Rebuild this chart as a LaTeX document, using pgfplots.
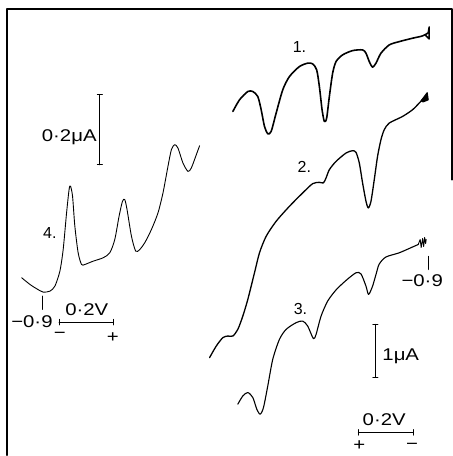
\documentclass[border=0pt]{standalone}
\usepackage{pgfplots}
\pgfplotsset{compat=1.18}
\usepackage{fontspec}
\setmainfont{Liberation Sans}

\newcommand{\lab}[1]{\scalebox{1.2}[1]{#1}}

\begin{document}
\begin{tikzpicture}
\begin{axis}[
  scale only axis, width=453pt, height=456pt,
  xmin=0, xmax=453, ymin=0, ymax=456, y dir=reverse,
  hide axis, clip=false,
  every axis plot/.append style={black, line join=round, line cap=round},
]
\path (rel axis cs:0,0) rectangle (rel axis cs:1,1);

% frame
\addplot[line width=1.8pt] coordinates {(7.3,456) (7.3,9) (452.5,9) (452.5,180)};

% curve 1
\addplot[line width=1.6pt, smooth, tension=0.45] coordinates {
(233.3,111.7) (240,100) (248.3,91.7) (253.3,91.7) (258.3,96.7) (261.7,110)
(265,126.7) (268.3,134) (271.7,131.7) (276.7,113.3) (283.3,90) (290,76.7)
(300,66.7) (308.3,63.3) (313.3,64) (317.3,70) (320,86.7) (322.7,110)
(325,121.7) (327.3,118.3) (330,96.7) (333.3,73.3) (336.7,61.7) (343.3,55)
(353.3,50.7) (363.3,50) (366.7,53.3) (370,61.7) (373.3,67.3) (376.7,63.3)
(381.7,53.3) (390,45) (400,41.7) (413.3,38.3) (423.3,36) (429,33)};
\addplot[line width=1.5pt] coordinates {(429,33) (430,27) (430,39) (426,35)};

% curve 2
\addplot[line width=1.3pt, smooth, tension=0.45] coordinates {
(210,358.3) (216.7,346.7) (223.3,338.3) (228.3,336.7) (233.3,336.7)
(238.3,330) (243.3,316.7) (248.3,300) (255,273.3) (260,253.3) (266.7,236.7)
(276.7,221.7) (290,206.7) (303.3,193.3) (313.3,184) (320,182.7) (324,183.3)
(326.7,178.3) (330,170) (336.7,161.7) (346.7,153.3) (353.3,151) (356.7,152.7)
(360,163.3) (363.3,183.3) (366.7,201.7) (369,208.3) (371.7,201.7) (375,180)
(378.3,156.7) (381.7,140) (385,130) (390,123.3) (403.3,116.7) (413.3,110)
(420,103.3) (425,98)};
\addplot[line width=1.2pt, fill=black] coordinates {(422,101) (428,93) (429,100) (424,102) (422,101)};

% curve 3
\addplot[line width=1.1pt, smooth, tension=0.45] coordinates {
(238.3,405) (243.3,396.7) (248.3,393.3) (253.3,398.3) (257.3,410) (260.7,415)
(264,408.3) (268.3,386.7) (273.3,360) (280,340) (286.7,330) (296.7,323.3)
(303.3,321.7) (308.3,326.7) (314,339.3) (316.7,335) (321.7,316.7)
(328.3,301.7) (336.7,290.5) (346.7,281) (356.7,273.3) (361.7,274.5)
(366.7,286.7) (369.3,295) (373.3,286.7) (377,274) (380,264.5) (386.7,257.5)
(400,253.3) (413.3,247.5) (419,245)};
\addplot[line width=0.9pt] coordinates {
(419,245) (421,240) (422,248) (423.5,239) (424.5,247) (425.5,238) (426.5,244) (427,240)};

% curve 4
\addplot[line width=0.9pt, smooth, tension=0.45] coordinates {
(21.7,278.3) (30,285) (36.7,289.3) (43.3,292.7) (50,291.7) (55,286.7)
(60,271.7) (63.3,250) (66.7,213.3) (69.3,189.3) (70.7,186.7) (72.7,196.7)
(75,226.7) (78.3,253.3) (81.7,265) (85,265) (93.3,261.7) (103.3,258.3)
(110,253.3) (115,240) (119.3,216.7) (122.7,201.7) (125,200) (127.3,210)
(131.7,236.7) (136,251.7) (140,250) (145,243.3) (151.7,230) (158.3,213.3)
(163.3,193.3) (168.3,166.7) (171.7,150) (175,145) (178.3,148.3)
(183.3,163.3) (188.3,171.7) (191.7,168.3) (196.7,155) (200,146)};

% scale bars
\addplot[line width=1.2pt] coordinates {(100,95) (100,165)};
\addplot[line width=1pt] coordinates {(97.5,95) (102.5,95)};
\addplot[line width=1pt] coordinates {(97.5,165) (102.5,165)};

\addplot[line width=1.2pt] coordinates {(376,325) (376,378)};
\addplot[line width=1pt] coordinates {(373.5,325) (378.5,325)};
\addplot[line width=1pt] coordinates {(373.5,378) (378.5,378)};

\addplot[line width=1.1pt] coordinates {(359,433.3) (414,433.3)};
\addplot[line width=1pt] coordinates {(359,430.5) (359,436)};
\addplot[line width=1pt] coordinates {(414,430.5) (414,436)};

\addplot[line width=1.1pt] coordinates {(59.3,322.7) (113.3,322.7)};
\addplot[line width=1pt] coordinates {(59.3,320) (59.3,325.5)};
\addplot[line width=1pt] coordinates {(113.3,320) (113.3,325.5)};

% potential markers
\addplot[line width=1.1pt] coordinates {(42.7,296.7) (42.7,310)};
\addplot[line width=1.1pt] coordinates {(429.3,257) (429.3,270)};

% labels
\begin{scope}[every node/.style={font=\fontsize{17}{17}\selectfont, inner sep=0pt}]
\node[anchor=east] at (axis cs:97,137.5) {\lab{0·2μA}};
\node at (axis cs:400,357) [anchor=west, xshift=-17pt] {\lab{1μA}};
\node at (axis cs:385,420) {\lab{0·2V}};
\node at (axis cs:87,310) {\lab{0·2V}};
\node at (axis cs:32,322) {\lab{−0·9}};
\node at (axis cs:423,281) {\lab{−0·9}};
\node at (axis cs:360,446.5) {\lab{+}};
\node at (axis cs:413,447) {\lab{−}};
\node at (axis cs:60,336) {\lab{−}};
\node at (axis cs:113,338) {\lab{+}};
\end{scope}
\begin{scope}[every node/.style={font=\fontsize{16}{16}\selectfont, inner sep=0pt}]
\node at (axis cs:300,47.5) {1.};
\node at (axis cs:305,167.5) {2.};
\node at (axis cs:301,310) {3.};
\node at (axis cs:50,233.5) {4.};
\end{scope}
\end{axis}
\end{tikzpicture}
\end{document}
